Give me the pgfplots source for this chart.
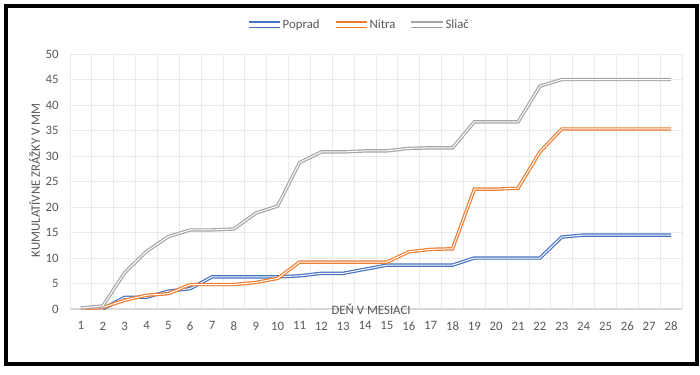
\documentclass[border=0pt]{standalone}
\usepackage{fontspec}
\setmainfont{Carlito}
\usepackage{pgfplots}
\pgfplotsset{compat=1.18}
\definecolor{cblue}{HTML}{4472C4}
\definecolor{corange}{HTML}{ED7D31}
\definecolor{cgray}{HTML}{A5A5A5}
\definecolor{txt}{HTML}{595959}
\definecolor{grd}{HTML}{EAEAEA}
\definecolor{axl}{HTML}{D9D9D9}
\pgfplotsset{
  dbl/.style={legend image code/.code={%
    \fill[#1] (0pt,-1.3pt) rectangle (21pt,1.3pt);
    \fill[white] (0pt,-0.4pt) rectangle (21pt,0.4pt);}}}
\begin{document}
\begin{tikzpicture}
\fill[white] (0pt,0pt) rectangle (525pt,281.25pt);
\begin{axis}[
  at={(52.5pt,49.5pt)}, anchor=south west,
  scale only axis, width=459pt, height=191.25pt,
  xmin=0.5, xmax=28.5, ymin=0, ymax=50,
  xtick={1,...,28}, ytick={0,5,...,50},
  minor xtick={0.5,1.5,...,28.5},
  xminorgrids=true, ymajorgrids=true, xmajorgrids=false,
  minor grid style={grd, line width=0.6pt},
  major grid style={grd, line width=0.6pt},
  axis line style={draw=none},
  major tick length=0pt, minor tick length=0pt,
  tick label style={font=\fontsize{9.6}{10}\selectfont, text=txt},
  /pgf/number format/assume math mode=true,
  xticklabel style={yshift=-6pt},
  yticklabel style={xshift=-5pt},
  xlabel={DEŇ V MESIACI},
  xlabel style={at={(axis description cs:0.492,0)}, anchor=center, yshift=-0.5pt, font=\fontsize{9.6}{10}\selectfont, text=txt},
  ylabel={KUMULATÍVNE ZRÁŽKY V MM},
  ylabel style={at={(axis description cs:-0.058,0.505)}, anchor=center, font=\fontsize{9.6}{10}\selectfont, text=txt},
  legend columns=3,
  legend style={draw=none, fill=none, at={(axis description cs:0.474,1.114)}, anchor=center,
    font=\fontsize{9.6}{10}\selectfont,
    /tikz/every even column/.append style={column sep=10pt}},
  every axis plot/.append style={line width=0.9pt, double=white, double distance=0.75pt},
]
\draw[axl, line width=0.8pt] (axis cs:0.5,0) -- (axis cs:28.5,0);
\addplot[cblue, dbl=cblue] coordinates {
(1,0) (2,0) (3,2.3) (4,2.3) (5,3.5) (6,4.0) (7,6.3) (8,6.3) (9,6.3) (10,6.3)
(11,6.5) (12,7.0) (13,7.0) (14,7.8) (15,8.6) (16,8.6) (17,8.6) (18,8.6) (19,10.0) (20,10.0)
(21,10.0) (22,10.0) (23,14.1) (24,14.5) (25,14.5) (26,14.5) (27,14.5) (28,14.5)};
\addlegendentry{\textcolor{txt}{Poprad}}
\addplot[corange, dbl=corange] coordinates {
(1,0) (2,0.3) (3,1.7) (4,2.7) (5,3.0) (6,4.8) (7,4.8) (8,4.8) (9,5.2) (10,6.0)
(11,9.2) (12,9.2) (13,9.2) (14,9.2) (15,9.2) (16,11.2) (17,11.7) (18,11.8) (19,23.5) (20,23.5)
(21,23.7) (22,30.8) (23,35.3) (24,35.3) (25,35.3) (26,35.3) (27,35.3) (28,35.3)};
\addlegendentry{\textcolor{txt}{Nitra}}
\addplot[cgray, dbl=cgray] coordinates {
(1,0.2) (2,0.6) (3,7.1) (4,11.3) (5,14.2) (6,15.5) (7,15.5) (8,15.7) (9,18.8) (10,20.2)
(11,28.7) (12,30.8) (13,30.8) (14,31.0) (15,31.0) (16,31.5) (17,31.6) (18,31.6) (19,36.7) (20,36.7)
(21,36.7) (22,43.7) (23,45.0) (24,45.0) (25,45.0) (26,45.0) (27,45.0) (28,45.0)};
\addlegendentry{\textcolor{txt}{Sliač}}
\end{axis}
\draw[black, line width=3pt] (4.5pt,7.875pt) rectangle (522.75pt,276.375pt);
\end{tikzpicture}
\end{document}
